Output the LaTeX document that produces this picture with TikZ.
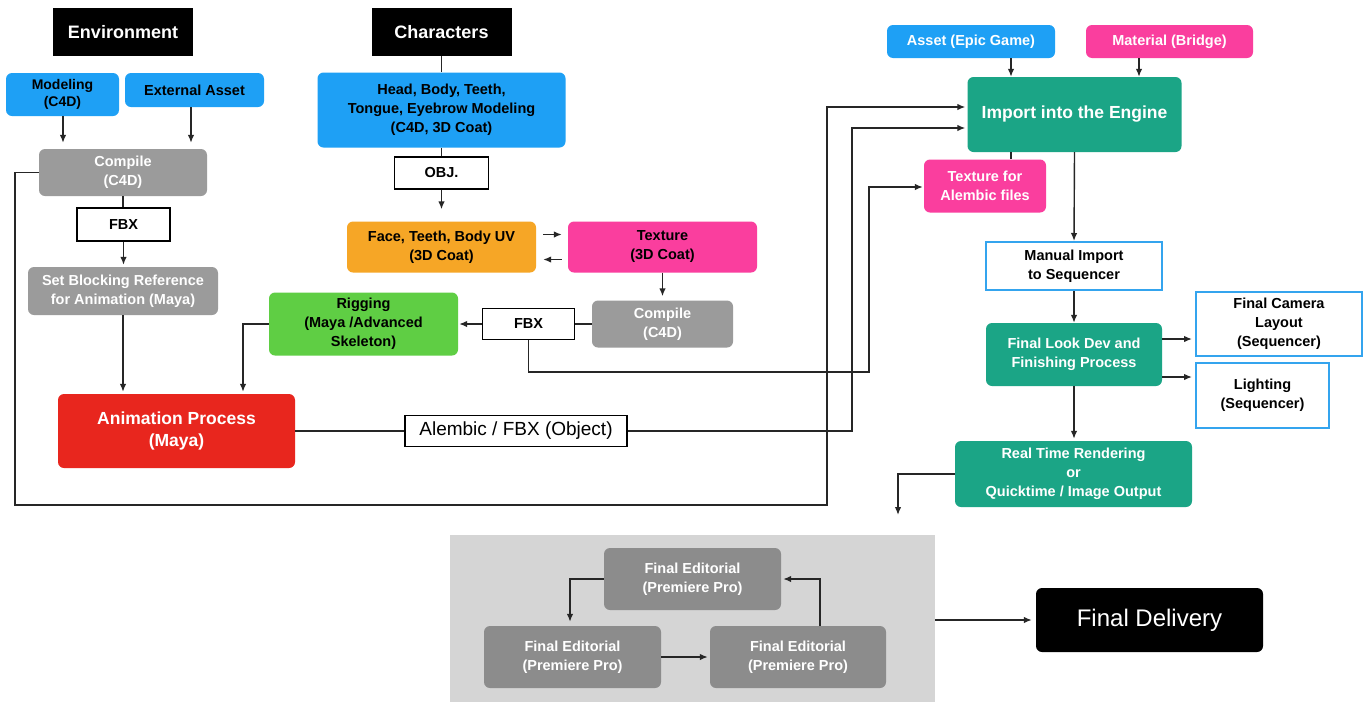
\documentclass[tikz,border=0pt]{standalone}
\usepackage{fontspec}
\setmainfont{Liberation Sans}
\usetikzlibrary{arrows.meta}
\definecolor{cblue}{RGB}{30,160,245}
\definecolor{corange}{RGB}{246,166,38}
\definecolor{cpink}{RGB}{250,62,158}
\definecolor{cgreen}{RGB}{95,206,68}
\definecolor{cred}{RGB}{232,38,30}
\definecolor{cteal}{RGB}{27,165,134}
\definecolor{cgray}{RGB}{155,155,155}
\definecolor{cfe}{RGB}{140,140,140}
\definecolor{cpanel}{RGB}{213,213,213}
\definecolor{cbline}{RGB}{52,164,238}
\newcommand\smtxt{\bfseries\fontsize{14.5}{19}\selectfont}
\newcommand\hdtxt{\bfseries\fontsize{18}{21}\selectfont}
\newcommand\bgtxt{\bfseries\fontsize{17.5}{22}\selectfont}
\begin{document}
\begin{tikzpicture}[x=1pt,y=-1pt,
  base/.style={inner sep=0pt, align=center, font=\smtxt, text=black},
  rbox/.style={base, rounded corners=6pt},
  head/.style={base, fill=black, text=white, font=\hdtxt},
  wbox/.style={base, fill=white, draw=black, line width=1.8pt},
  sbox/.style={base, fill=white, draw=cbline, line width=2pt},
  bluebox/.style={rbox, fill=cblue},
  graybox/.style={rbox, fill=cgray, text=white},
  tealbox/.style={rbox, fill=cteal, text=white},
  febox/.style={rbox, fill=cfe, text=white, minimum width=177pt, minimum height=62pt},
  conn/.style={line width=1.4pt, draw=black!85},
  arr/.style={conn, -{Latex[length=8pt,width=6.5pt]}}
]
\useasboundingbox (0,0) rectangle (1366,702);
\fill[white] (0,0) rectangle (1366,702);

% ---- panel
\node[fill=cpanel, inner sep=0, minimum width=485pt, minimum height=167pt] (panel) at (692.5,618.5) {};

% ---- Environment column
\node[head, minimum width=140pt, minimum height=48pt] (env) at (123,32) {Environment};
\node[bluebox, font=\bfseries\fontsize{14}{16.5}\selectfont, minimum width=113pt, minimum height=43pt] (model) at (62.5,94.5) {Modeling\\(C4D)};
\node[bluebox, minimum width=139pt, minimum height=34pt] (ext) at (194.5,90) {External Asset};
\node[graybox, minimum width=168pt, minimum height=47pt] (cmpE) at (123,172.5) {Compile\\(C4D)};
\node[wbox, minimum width=93pt, minimum height=33pt] (fbxE) at (123.5,224.5) {FBX};
\node[graybox, minimum width=190pt, minimum height=48pt] (block) at (123,291) {Set Blocking Reference\\for Animation (Maya)};
\node[rbox, fill=cred, text=white, font=\bgtxt, minimum width=237pt, minimum height=74pt] (anim) at (176.5,431) {Animation Process\\(Maya)};

% ---- Characters column
\node[head, minimum width=140pt, minimum height=48pt] (chars) at (441.5,32) {Characters};
\node[bluebox, minimum width=248pt, minimum height=75pt] (headm) at (441.5,110) {Head, Body, Teeth,\\Tongue, Eyebrow Modeling\\(C4D, 3D Coat)};
\node[wbox, minimum width=94pt, minimum height=32pt] (obj) at (441.5,173) {OBJ.};
\node[rbox, fill=corange, minimum width=189pt, minimum height=51pt] (face) at (441.5,247) {Face, Teeth, Body UV\\(3D Coat)};
\node[rbox, fill=cpink, minimum width=189pt, minimum height=51pt] (tex) at (662.5,247) {Texture\\(3D Coat)};
\node[graybox, minimum width=141pt, minimum height=47pt] (cmpC) at (662.5,324) {Compile\\(C4D)};
\node[wbox, minimum width=92pt, minimum height=31pt] (fbxC) at (528.5,324) {FBX};
\node[rbox, fill=cgreen, minimum width=189pt, minimum height=63pt] (rig) at (363.5,324) {Rigging\\(Maya /Advanced\\Skeleton)};
\node[wbox, font=\fontsize{19}{22}\selectfont, minimum width=222pt, minimum height=31pt] (alem) at (516,431) {Alembic / FBX (Object)};

% ---- Engine column
\node[bluebox, text=white, minimum width=168pt, minimum height=33pt] (asset) at (971,41.5) {Asset (Epic Game)};
\node[rbox, fill=cpink, text=white, minimum width=167pt, minimum height=33pt] (mat) at (1169.5,41.5) {Material (Bridge)};
\node[tealbox, font=\bgtxt, minimum width=214pt, minimum height=75pt] (imp) at (1074.5,114.5) {Import into the Engine};
\node[rbox, fill=cpink, text=white, minimum width=122pt, minimum height=53pt] (texA) at (985,186) {Texture for\\Alembic files};
\node[sbox, minimum width=176pt, minimum height=48pt] (man) at (1074,266) {Manual Import\\to Sequencer};
\node[tealbox, minimum width=176pt, minimum height=63pt] (look) at (1074,354.5) {Final Look Dev and\\Finishing Process};
\node[sbox, minimum width=166pt, minimum height=64pt] (cam) at (1279,324) {Final Camera\\Layout\\(Sequencer)};
\node[sbox, minimum width=133pt, minimum height=65pt] (light) at (1262.5,395.5) {Lighting\\(Sequencer)};
\node[tealbox, minimum width=237pt, minimum height=66pt] (rt) at (1073.5,474) {Real Time Rendering\\or\\Quicktime / Image Output};

% ---- Editorial
\node[febox] (feT) at (692.5,579) {Final Editorial\\(Premiere Pro)};
\node[febox] (feL) at (572.5,657) {Final Editorial\\(Premiere Pro)};
\node[febox, minimum width=176pt] (feR) at (798,657) {Final Editorial\\(Premiere Pro)};
\node[rbox, fill=black, text=white, font=\fontsize{24}{28}\selectfont, minimum width=227pt, minimum height=64pt] (fd) at (1149.5,620) {Final Delivery};

% ---- connectors: environment
\draw[arr, shorten >=6pt] ([xshift=0.5pt]model.south) -- ([xshift=0.5pt]model.south |- cmpE.north);
\draw[arr, shorten >=6pt] ([xshift=-3.5pt]ext.south) -- ([xshift=-3.5pt]ext.south |- cmpE.north);
\draw[conn] (cmpE.south) -- (cmpE.south |- fbxE.north);
\draw[arr, shorten >=2pt] (fbxE.south) -- (fbxE.south |- block.north);
\draw[arr, shorten >=2pt] (block.south) -- (block.south |- anim.north);
\draw[arr, shorten >=2pt] (cmpE.west) -- (15,172.5) -- (15,505) -- (827,505) |- ([yshift=7.5pt]imp.west);

% ---- connectors: characters
\draw[conn] (chars.south) -- (headm.north);
\draw[conn] (headm.south) -- (obj.north);
\draw[arr, shorten >=12pt] (obj.south) -- (face.north);
\draw[arr, shorten <=7pt, shorten >=6pt] ([yshift=12.5pt]face.east) -- ([yshift=12.5pt]tex.west);
\draw[arr, shorten <=6pt, shorten >=7pt] ([yshift=-12.5pt]tex.west) -- ([yshift=-12.5pt]face.east);
\draw[arr, shorten >=4pt] (tex.south) -- (cmpC.north);
\draw[conn] (cmpC.west) -- (fbxC.east);
\draw[arr, shorten >=1pt] (fbxC.west) -- (fbxC.west -| rig.east);
\draw[arr, shorten >=2pt] (rig.west) -| ([xshift=66.5pt]anim.north);
\draw[arr, shorten >=1pt] (fbxC.south) -- (528.5,372) -- (869,372) |- ([yshift=-1pt]texA.west);
\draw[conn] (anim.east) -- (alem.west);
\draw[arr, shorten >=2pt] (alem.east) -- (852,431) |- ([yshift=-13.5pt]imp.west);

% ---- connectors: engine
\draw[arr] (1011,58) coordinate (a1) -- (a1 |- imp.north);
\draw[arr] (1139,58) coordinate (m1) -- (m1 |- imp.north);
\draw[conn] ([xshift=-63.5pt]imp.south) -- ([xshift=-63.5pt]imp.south |- texA.north);
\draw[arr] (imp.south) -- (man.north);
\draw[arr] (man.south) -- (look.north);
\draw[arr, shorten >=3pt] ([yshift=15.5pt]look.east) -- ([yshift=15.5pt]look.east -| cam.west);
\draw[arr, shorten >=3pt] ([yshift=-22.5pt]look.east) -- ([yshift=-22.5pt]look.east -| light.west);
\draw[arr, shorten >=2pt] (look.south) -- (look.south |- rt.north);
\draw[arr] (rt.west) -- (898,474) -- (898,515);

% ---- editorial
\draw[arr, shorten >=4pt] (feT.west) -| ([xshift=-2.5pt]feL.north);
\draw[arr, shorten >=2pt] (feL.east) -- (feR.west);
\draw[arr, shorten >=2pt] ([xshift=22pt]feR.north) |- (feT.east);
\draw[arr, shorten >=4pt] (panel.east |- fd.west) -- (fd.west);
\end{tikzpicture}
\end{document}
